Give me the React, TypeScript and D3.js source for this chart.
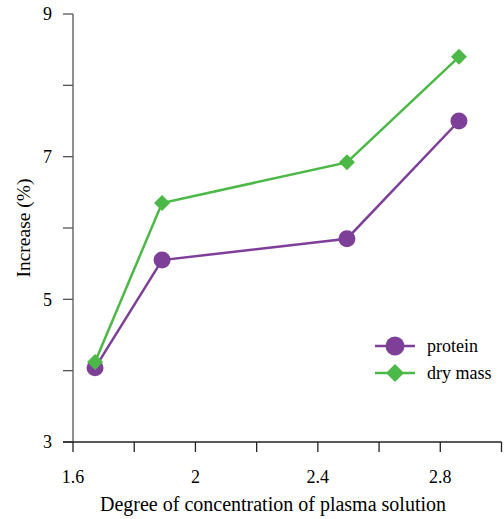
import React from "react";
import * as d3 from "d3";

const concentration = [1.672, 1.891, 2.495, 2.861];
const protein = [4.04, 5.55, 5.85, 7.5];
const dryMass = [4.12, 6.35, 6.92, 8.4];
const yTicks = [3, 4, 5, 6, 7, 8, 9];
const yLabels = [3, 5, 7, 9];
const xTicks = [1.6, 1.8, 2.0, 2.2, 2.4, 2.6, 2.8, 3.0];
const xLabels = [1.6, 2.0, 2.4, 2.8];

const PURPLE = "#7e3f98";
const GREEN = "#4cb847";
const FONT = "Tinos";

export default function App() {
  const W = 504, H = 519;
  const x = d3.scaleLinear().domain([1.6, 3.0]).range([73, 501.5]);
  const y = d3.scaleLinear().domain([3, 9]).range([442, 14]);
  const line = d3.line<number>().x((_, i) => x(concentration[i])).y((d) => y(d));
  const diamond = (cx: number, cy: number, r: number) =>
    `M${cx},${cy - r}L${cx + r},${cy}L${cx},${cy + r}L${cx - r},${cy}Z`;

  return (
    <div style={{ position: "absolute", left: 0, top: 0, width: W, height: H, fontFamily: FONT }}>
      <svg width={W} height={H} style={{ display: "block" }}>
        <rect width={W} height={H} fill="white" />
        <line x1={x(1.6)} x2={x(1.6)} y1={y(9)} y2={y(3)} stroke="#555" strokeWidth={1.3} />
        {yTicks.map((t) => (
          <line key={t} x1={x(1.6) - 10} x2={x(1.6)} y1={y(t)} y2={y(t)} stroke="#555" strokeWidth={1.3} />
        ))}
        {yLabels.map((t) => (
          <text key={t} x={x(1.6) - 21} y={y(t)} dy="0.35em" textAnchor="end" style={{ fontFamily: FONT, fontSize: 18 }}>
            {t}
          </text>
        ))}
        <line x1={x(1.6) - 10} x2={x(3.0)} y1={y(3)} y2={y(3)} stroke="#222" strokeWidth={1.3} />
        {xTicks.map((t) => (
          <line key={t} x1={x(t)} x2={x(t)} y1={y(3)} y2={y(3) + 10} stroke="#222" strokeWidth={1.3} />
        ))}
        {xLabels.map((t) => (
          <text key={t} x={x(t)} y={y(3) + 41} textAnchor="middle" style={{ fontFamily: FONT, fontSize: 18 }}>
            {d3.format("")(t)}
          </text>
        ))}
        <text x={273} y={511} textAnchor="middle" style={{ fontFamily: FONT, fontSize: 20 }}>
          Degree of concentration of plasma solution
        </text>
        <text transform={`translate(30,228) rotate(-90)`} textAnchor="middle" style={{ fontFamily: FONT, fontSize: 19.5 }}>
          Increase (%)
        </text>
        <path d={line(protein) || ""} fill="none" stroke={PURPLE} strokeWidth={2.5} />
        <path d={line(dryMass) || ""} fill="none" stroke={GREEN} strokeWidth={2.5} />
        {protein.map((v, i) => (
          <circle key={i} cx={x(concentration[i])} cy={y(v)} r={8.5} fill={PURPLE} />
        ))}
        {dryMass.map((v, i) => (
          <path key={i} d={diamond(x(concentration[i]), y(v), 8)} fill={GREEN} />
        ))}
        <line x1={375} x2={415} y1={346} y2={346} stroke={PURPLE} strokeWidth={2.5} />
        <circle cx={395} cy={346} r={9.5} fill={PURPLE} />
        <text x={427} y={346} dy="0.35em" style={{ fontFamily: FONT, fontSize: 18 }}>protein</text>
        <line x1={375} x2={415} y1={373} y2={373} stroke={GREEN} strokeWidth={2.5} />
        <path d={diamond(395, 373, 9)} fill={GREEN} />
        <text x={427} y={373} dy="0.35em" style={{ fontFamily: FONT, fontSize: 18 }}>dry mass</text>
      </svg>
    </div>
  );
}
